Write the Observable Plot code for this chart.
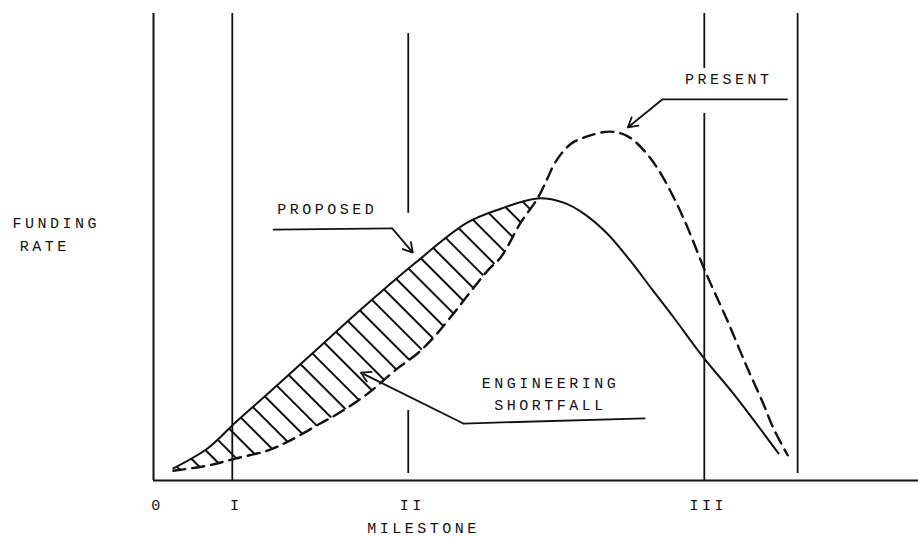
<!DOCTYPE html>
<html>
<head>
<meta charset="utf-8">
<script src="https://cdn.jsdelivr.net/npm/d3@7"></script>
<script src="https://cdn.jsdelivr.net/npm/@observablehq/plot@0.6"></script>
<style>
  html, body { margin: 0; padding: 0; background: #fff; }
</style>
</head>
<body>
<div id="chart"></div>
<script>
// ---- Data (time axis 0..100, funding rate 0..100) ----
const milestoneNames = ["0", "I", "II", "III"];
const milestoneX = [0, 10.3, 33.3, 72.0];

// vertical guide segments (milestone lines, with their gaps)
const guideX  = [10.3, 33.3, 33.3, 72.0, 72.0, 84.2];
const guideY1 = [0,    57.2, 1.5,  88.2, 0,    1.5];
const guideY2 = [100,  95.7, 15.0, 100,  78.6, 100];

// PROPOSED funding profile (solid)
const proposedX = [2.6, 7.1, 10.7, 15.3, 20.9, 27.1, 34.0, 41.0, 45.4, 50.2, 53.6, 56.2, 59.3, 62.4, 65.0, 68.0, 71.9, 75.8, 81.7];
const proposedY = [2.6, 6.9, 12.4, 19.1, 27.4, 36.6, 46.3, 55.2, 58.2, 60.4, 59.5, 57.2, 52.9, 46.9, 41.3, 34.9, 26.3, 18.6, 5.8];

// PRESENT funding profile (dashed)
const presentX = [2.6, 7.1, 10.7, 14.9, 17.9, 21.8, 24.4, 28.0, 31.9, 34.5, 36.6, 38.8, 43.7, 45.4, 48.0, 50.2, 51.5, 52.5, 54.5, 56.7, 59.7, 62.0, 64.1, 65.9, 68.0, 69.8, 72.2, 75.0, 77.6, 79.7, 81.0, 82.9];
const presentY = [2.1, 3.2, 4.7, 6.4, 8.6, 12.2, 14.6, 18.6, 24.0, 27.2, 30.6, 34.9, 45.0, 47.8, 55.2, 60.4, 64.7, 68.1, 72.0, 73.7, 74.7, 73.7, 70.7, 66.8, 60.6, 54.2, 44.5, 34.3, 24.2, 16.5, 11.3, 5.4];

// end of the engineering-shortfall (hatched) region
const shortfallEndX = 50.2;

// annotation leaders: start -> elbow -> arrow tip
const leaderName = ["PROPOSED", "PRESENT", "ENGINEERING SHORTFALL"];
const leaderStartX = [15.6, 82.9, 64.3];
const leaderStartY = [53.7, 81.6, 13.3];
const leaderElbowX = [31.2, 66.5, 40.5];
const leaderElbowY = [54.0, 81.6, 12.2];
const leaderTipX   = [33.9, 62.0, 27.1];
const leaderTipY   = [48.8, 75.6, 23.1];

// text labels
const labelText = ["PROPOSED", "PRESENT", "ENGINEERING", "SHORTFALL", "FUNDING", "RATE", "MILESTONE"];
const labelX = [22.7, 75.2, 51.9, 51.9, -12.7, -14.2, 35.3];
const labelY = [58.0, 85.9, 20.8, 16.1, 55.0, 50.1, -10.3];

// ---- Build tables ----
const proposed = proposedX.map((x, i) => ({x, y: proposedY[i]}));
const present = presentX.map((x, i) => ({x, y: presentY[i]}));
const guides = guideX.map((x, i) => ({x, y1: guideY1[i], y2: guideY2[i]}));
const hatch = proposed.filter(d => d.x <= shortfallEndX)
  .concat(present.filter(d => d.x < shortfallEndX).reverse());
const leaders = leaderName.map((name, i) => ({
  name,
  x0: leaderStartX[i], y0: leaderStartY[i],
  x1: leaderElbowX[i], y1: leaderElbowY[i],
  x2: leaderTipX[i], y2: leaderTipY[i]
}));
const labels = labelText.map((text, i) => ({text, x: labelX[i], y: labelY[i]}));

const ink = "#111";

const chart = Plot.plot({
  width: 918,
  height: 537,
  marginLeft: 153,
  marginRight: 0,
  marginTop: 13,
  marginBottom: 57,
  x: {domain: [0, 100]},
  y: {domain: [0, 100], axis: null},
  style: {
    fontFamily: "'Liberation Mono', 'DejaVu Sans Mono', monospace",
    fontSize: "15px",
    letterSpacing: "3.5px",
    background: "#fff",
    color: ink
  },
  marks: [
    // hatched shortfall region
    Plot.line(hatch, {x: "x", y: "y", fill: "url(#hatch)", stroke: "none", curve: "catmull-rom"}),
    // milestone lines
    Plot.ruleX(guides, {x: "x", y1: "y1", y2: "y2", stroke: ink, strokeWidth: 1.8}),
    // axes lines
    Plot.ruleX([0], {y1: 0, y2: 100, stroke: ink, strokeWidth: 2}),
    Plot.ruleY([0], {stroke: ink, strokeWidth: 2}),
    Plot.axisX(milestoneX, {
      tickSize: 0, tickPadding: 19, dx: 4,
      tickFormat: (d, i) => milestoneNames[i],
      label: null, fill: ink
    }),
    // curves
    Plot.line(proposed, {x: "x", y: "y", stroke: ink, strokeWidth: 2, curve: "catmull-rom"}),
    Plot.line(present, {x: "x", y: "y", stroke: ink, strokeWidth: 2.4, strokeDasharray: "12,7", curve: "catmull-rom"}),
    // leaders
    Plot.link(leaders, {x1: "x0", y1: "y0", x2: "x1", y2: "y1", stroke: ink, strokeWidth: 1.8}),
    Plot.arrow(leaders, {x1: "x1", y1: "y1", x2: "x2", y2: "y2", stroke: ink, strokeWidth: 1.8, headLength: 9}),
    // labels
    Plot.text(labels, {x: "x", y: "y", text: "text", fill: ink, clip: false})
  ]
});

// hatch pattern definition
d3.select(chart).insert("defs", ":first-child").html(
  `<pattern id="hatch" patternUnits="userSpaceOnUse" width="16" height="16" patternTransform="rotate(-45)">
     <line x1="3" y1="0" x2="3" y2="16" stroke="${ink}" stroke-width="2"/>
   </pattern>`
);

document.getElementById("chart").appendChild(chart);
</script>
</body>
</html>
